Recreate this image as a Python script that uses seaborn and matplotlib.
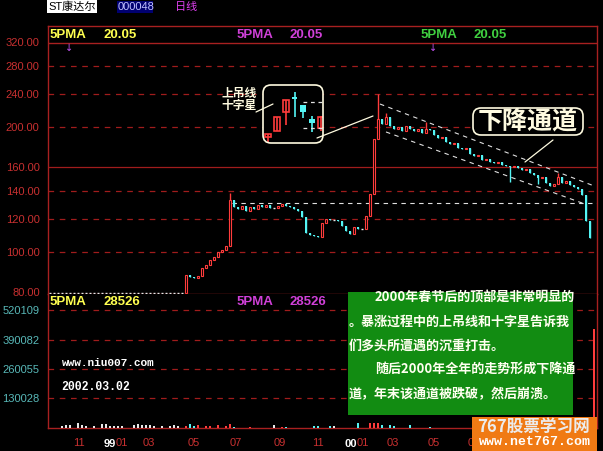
import numpy as np
import matplotlib
matplotlib.use("Agg")
import matplotlib.pyplot as plt
import matplotlib.transforms as mtransforms
from matplotlib.patches import FancyBboxPatch, Rectangle
from matplotlib.lines import Line2D
from matplotlib.ticker import NullLocator
import seaborn as sns

# ---- data ----
# daily closes (one entry per bar, left to right)
closes = [79.6] * 34 + [
    87.9, 87.0, 86.5, 87.5, 91.5, 93.0, 95.5, 97.0, 100.0, 101.0, 103.5,
    133.4, 128.0, 126.5, 129.0, 125.5, 128.0, 126.5, 129.7, 128.0, 129.7,
    127.3, 127.3, 129.0, 130.5, 129.0, 128.0, 126.5, 125.5, 121.5, 111.0,
    109.8, 109.2, 108.7, 117.2, 119.6, 119.0, 119.0, 118.5, 115.5, 112.0,
    110.4, 114.9, 113.7, 113.7, 122.0, 137.8, 187.0, 209.0, 203.4, 211.5,
    201.0, 197.7, 200.0, 195.5, 201.0, 197.7, 195.5, 197.7, 193.4, 197.7,
    196.6, 191.2, 188.0, 189.5, 184.0, 181.5, 183.0, 178.0, 176.5, 177.5,
    172.0, 170.0, 171.0, 166.4, 167.2, 164.6, 163.7, 164.5, 161.8, 160.9,
    160.0, 161.0, 159.2, 157.5, 158.4, 155.0, 153.2, 150.5, 151.6, 146.5,
    144.3, 145.9, 151.6, 146.7, 147.8, 145.1, 143.5, 141.9, 137.0, 118.5,
    108.0, np.nan]
wick_high = {45: 138.5, 82: 240.0, 84: 216.0, 94: 205.0, 127: 155.0}
wick_low = {76: 112.0, 115: 147.4, 122: 146.0}

volumes = [
    0, 0, 0, 4500, 13000, 9000, 0, 18000, 9000, 5000,
    0, 8000, 0, 14000, 16000, 6000, 8000, 6000, 7000, 0,
    0, 12000, 14000, 13000, 10000, 12000, 5000, 0, 8000, 0,
    7000, 9000, 6000, 0, 6000, 17000, 8000, 10000, 0, 8000,
    6000, 0, 13000, 0, 5000, 16000, 4000, 0, 0, 0,
    3000, 0, 0, 0, 0, 0, 13000, 0, 4000, 3000,
    0, 0, 0, 0, 0, 0, 8000, 6000, 0, 0,
    7000, 5000, 0, 0, 0, 0, 0, 18000, 0, 0,
    20000, 22000, 21000, 13000, 0, 9000, 8000, 0, 0, 0,
    9000, 0, 0, 0, 0, 4000, 0, 0, 0, 0,
    0, 0, 0, 0, 0, 0, 6000, 5000, 0, 7000,
    5000, 0, 6000, 0, 8000, 6000, 0, 5000, 7000, 0,
    6000, 8000, 0, 9000, 7000, 6000, 10000, 12000, 8000, 6000,
    9000, 11000, 14000, 20000, 26000, 18000, 435000]

price_ticks = [80, 100, 120, 140, 160, 200, 240, 280, 320]
vol_ticks = [130028, 260055, 390082, 520109]

# month ticks; the last two sit under the watermark, so their labels are not visible
month_pos = [5.75, 16.5, 23.25, 34.5, 45, 56, 65.5, 76.75, 84.25, 94.5, 104.5, 115, 125]
month_labels = ['11', '01', '03', '05', '07', '09', '11', '01', '03', '05', '07', '', '']
year_pos = [16.5, 76.75]
year_labels = ['99', '00']

# hand-drawn trend lines (bar index, price)
chan_upper = ([82.5, 136.0], [227.0, 144.1])
chan_lower = ([84.0, 133.75], [194.4, 130.3])
support = ([45.5, 136.75], [131.1, 131.1])

# zoomed candles in the inset (relative units)
mini_open = [6, 12, 31, 46, 38, 24, 15]
mini_close = [9, 26, 43, 44, 31, 20, 26]
mini_high = [9, 26, 43, 51, 38, 27, 27]
mini_low = [1, 12, 18, 26, 25, 11, 12]
mini_lines = [41, 15]

note_lines = ['2000年春节后的顶部是非常明显的',
              '。暴涨过程中的上吊线和十字星告诉我',
              '们多头所遭遇的沉重打击。',
              '随后2000年全年的走势形成下降通',
              '道，年末该通道被跌破，然后崩溃。']

# ---- style ----
RED = '#ff3c3c'
CYAN = '#54f4f4'
FRAME = '#a82020'
GRID = '#a01c1c'
CREAM = '#fffbe0'

sns.set_theme(style="dark", rc={"axes.facecolor": "black", "figure.facecolor": "black",
                                "savefig.facecolor": "black"})
plt.rcParams['font.family'] = ['Liberation Sans', 'Noto Sans CJK SC', 'DejaVu Sans']

W, H = 603, 451
fig = plt.figure(figsize=(W / 100, H / 100), dpi=100)


def fx(px):
    return px / W


def fy(py):
    return 1 - py / H


ax = fig.add_axes([fx(48), fy(294), fx(597) - fx(48), (294 - 26) / H])
axv = fig.add_axes([fx(48), fy(427.5), fx(597) - fx(48), (427.5 - 294) / H])

for a in (ax, axv):
    a.set_facecolor('black')
    a.grid(False)
    for s in a.spines.values():
        s.set_color(FRAME)
        s.set_linewidth(1)
axv.spines['top'].set_visible(False)

# ---- price panel ----
c = np.array(closes, dtype=float)
o = np.r_[c[0], c[:-1]]
x = np.arange(len(c))
hi = np.fmax(o, c)
lo = np.fmin(o, c)
for k, v in wick_high.items():
    hi[k] = v
for k, v in wick_low.items():
    lo[k] = v
up = c > o
dn = c < o
fl = c == o

ax.set_yscale('log')
ax.set_ylim(79.1, 350)
ax.set_xlim(-0.5, 136.75)

for v in price_ticks[1:-1]:
    ax.axhline(v, color=GRID, lw=0.9, ls='-' if v == 160 else (0, (4.5, 4.5)), zorder=1)
# header band line
ax.plot([0, 1], [(294 - 43) / (294 - 26)] * 2, transform=ax.transAxes, color=FRAME, lw=1)

ax.vlines(x[up], lo[up], hi[up], color=RED, lw=1, zorder=3)
ax.vlines(x[dn], lo[dn], hi[dn], color=CYAN, lw=1, zorder=3)
ax.bar(x[dn], (o - c)[dn], bottom=c[dn], width=0.65, color=CYAN, lw=0, zorder=3)
ax.bar(x[up], (c - o)[up], bottom=o[up], width=0.65, facecolor='black', edgecolor=RED, lw=0.8, zorder=3)
ax.hlines(c[fl], x[fl] - 0.35, x[fl] + 0.35, color='#e8e8e8', lw=1, zorder=3)

for xs, ys in (chan_upper, chan_lower, support):
    ax.plot(xs, ys, color='#e0e0e0', lw=0.8, ls=(0, (4, 4)), zorder=2)

ax.set_yticks(price_ticks)
ax.set_yticklabels([f'{v:.2f}' for v in price_ticks])
ax.yaxis.set_minor_locator(NullLocator())
ax.set_xticks([])
ax.tick_params(axis='y', length=0, pad=6, labelcolor='#c83030', labelsize=8)

# ---- volume panel ----
vcol = []
for i in range(len(c)):
    if np.isnan(c[i]) or up[i]:
        vcol.append(RED)
    elif dn[i]:
        vcol.append(CYAN)
    else:
        vcol.append('#e8e8e8')
axv.bar(x, volumes, width=0.5, color=vcol, lw=0, zorder=3)
axv.set_xlim(-0.5, 136.75)
axv.set_ylim(0, 591800)
for v in vol_ticks:
    axv.axhline(v, color=GRID, lw=0.9, ls=(0, (4.5, 4.5)), zorder=1)
axv.set_yticks(vol_ticks)
axv.set_yticklabels([str(v) for v in vol_ticks])
axv.tick_params(axis='y', length=0, pad=6, labelcolor='#58b8b8', labelsize=8)
axv.set_xticks(month_pos)
axv.set_xticklabels(month_labels)
axv.tick_params(axis='x', length=7, width=1, color=FRAME, pad=0.5,
                labelcolor='#c83030', labelsize=8, direction='out')
for lab in axv.get_xticklabels():
    lab.set_ha('left')
blend = mtransforms.blended_transform_factory(axv.transData, axv.transAxes)
for p, t in zip(year_pos, year_labels):
    axv.text(p, -0.125, t, transform=blend, ha='right', va='center',
             color='white', fontsize=8, fontweight='bold')

# ---- header texts ----
fig.patches.append(Rectangle((fx(47), fy(13)), fx(50), 13 / H, transform=fig.transFigure,
                             facecolor='white', edgecolor='none'))
fig.text(fx(48), fy(7), 'ST康达尔', color='black', fontsize=8, va='center')
fig.patches.append(Rectangle((fx(117), fy(13)), fx(36), 12 / H, transform=fig.transFigure,
                             facecolor='#000070', edgecolor='none'))
fig.text(fx(118), fy(7), '000048', color='#c0c0ff', fontsize=8, va='center')
fig.text(fx(175), fy(7), '日线', color='#e040f0', fontsize=8, va='center')

for (px, col) in ((50, '#ffff50'), (237, '#d040d8'), (421, '#40d040')):
    fig.text(fx(px), fy(35), '5PMA', color=col, fontsize=9.5, fontweight='bold', va='center')
    fig.text(fx(px + 53), fy(35), '20.05', color=col, fontsize=9.5, fontweight='bold', va='center')
for (px, col) in ((50, '#ffff50'), (237, '#d040d8')):
    fig.text(fx(px), fy(302), '5PMA', color=col, fontsize=9.5, fontweight='bold', va='center')
    fig.text(fx(px + 53), fy(302), '28526', color=col, fontsize=9.5, fontweight='bold', va='center')
for px in (69, 433):
    fig.text(fx(px), fy(48), '↓', color='#c050f0', fontsize=7, ha='center', va='center',
             family='DejaVu Sans')

fig.text(fx(62), fy(363), 'www.niu007.com', color='white', fontsize=8, fontweight='bold',
         family='Liberation Mono', va='center')
fig.text(fx(61), fy(387), '2002.03.02', color='white', fontsize=8.3, fontweight='bold',
         family='Liberation Mono', va='center')

# ---- inset with the hanging man / doji ----
inch = fig.dpi_scale_trans
box_bg = FancyBboxPatch((2.63, (H - 143) / 100), 0.60, 0.58, boxstyle='round,pad=0,rounding_size=0.08',
                        transform=inch, facecolor='black', edgecolor='none', zorder=5)
fig.patches.append(box_bg)
axi = fig.add_axes([fx(263), fy(143), fx(60), 58 / H], zorder=6)
axi.set_facecolor('none')
axi.set_xlim(-0.57, 6.23)
axi.set_ylim(0, 58)
axi.axis('off')
for i in range(len(mini_open)):
    mo, mc = mini_open[i], mini_close[i]
    col = RED if mc > mo else CYAN
    axi.vlines(i, mini_low[i], mini_high[i], color=col, lw=1.2)
    if mc > mo:
        axi.bar(i, mc - mo, bottom=mo, width=0.65, facecolor='black', edgecolor=RED, lw=1.2)
    else:
        axi.bar(i, max(mo - mc, 1), bottom=mc, width=0.65, color=CYAN, lw=0)
for v in mini_lines:
    axi.plot([4.0, 6.3], [v, v], color='#e0e0e0', lw=0.9, ls=(0, (3, 3)))
box_edge = FancyBboxPatch((2.63, (H - 143) / 100), 0.60, 0.58, boxstyle='round,pad=0,rounding_size=0.08',
                          transform=inch, facecolor='none', edgecolor=CREAM, lw=1.2, zorder=7)
fig.patches.append(box_edge)

fig.text(fx(221), fy(93), '上吊线', color=CREAM, fontsize=8.5, fontweight='bold', va='center',
         family='Noto Sans CJK SC')
fig.text(fx(221), fy(105), '十字星', color=CREAM, fontsize=8.5, fontweight='bold', va='center',
         family='Noto Sans CJK SC')
for (x0, y0, x1, y1) in ((256, 112, 273, 104), (317, 138, 373, 116), (553, 140, 525, 162)):
    fig.add_artist(Line2D([fx(x0), fx(x1)], [fy(y0), fy(y1)], transform=fig.transFigure,
                          color=CREAM, lw=0.9, zorder=8))

# ---- channel label ----
fig.patches.append(FancyBboxPatch((4.73, (H - 135) / 100), 1.10, 0.27,
                                  boxstyle='round,pad=0,rounding_size=0.08', transform=inch,
                                  facecolor='black', edgecolor=CREAM, lw=1.2, zorder=7))
fig.text(fx(528), fy(121.5), '下降通道', color=CREAM, fontsize=18, fontweight='bold',
         ha='center', va='center', family='Noto Sans CJK SC', zorder=8)

# ---- green note ----
fig.patches.append(Rectangle((fx(348), fy(415)), fx(225), 123 / H, transform=fig.transFigure,
                             facecolor='#128c12', edgecolor='none', zorder=5))
for t, px, py in zip(note_lines, (375, 349, 349, 375, 349), (298, 322, 346, 369, 394)):
    fig.text(fx(px), fy(py), t, color='#fffff0', fontsize=9.4, fontweight='bold', va='center',
             family='Noto Sans CJK SC', zorder=6)

# ---- watermark ----
fig.patches.append(Rectangle((fx(472), 0), fx(125), 34 / H, transform=fig.transFigure,
                             facecolor='#f07a14', edgecolor='none', zorder=5))
fig.text(fx(533), fy(427), '767股票学习网', color='#ececec', fontsize=12, fontweight='bold',
         ha='center', va='center', family='Noto Sans CJK SC', zorder=6)
fig.text(fx(535), fy(442), 'www.net767.com', color='white', fontsize=9.5, fontweight='bold',
         ha='center', va='center', family='Liberation Mono', zorder=6)

fig.savefig('out.png', dpi=100, facecolor='black')
